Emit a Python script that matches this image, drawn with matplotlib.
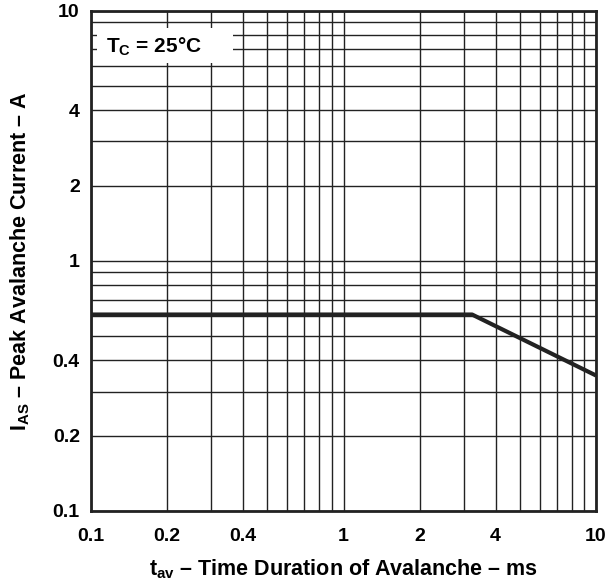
import matplotlib.pyplot as plt
from matplotlib.patches import Rectangle
from matplotlib.ticker import FixedLocator, NullFormatter, LogLocator

plt.rcParams['font.family'] = ['Liberation Sans', 'DejaVu Sans']
plt.rcParams['font.weight'] = 'bold'
plt.rcParams['axes.labelweight'] = 'bold'
plt.rcParams['mathtext.fontset'] = 'custom'
plt.rcParams['mathtext.rm'] = 'Liberation Sans:bold'
plt.rcParams['mathtext.bf'] = 'Liberation Sans:bold'
plt.rcParams['mathtext.it'] = 'Liberation Sans:bold'

# Avalanche current vs. time duration
t_av = [0.1, 3.23, 10]
i_as = [0.61, 0.61, 0.348]

x_ticks = [0.1, 0.2, 0.4, 1, 2, 4, 10]
y_ticks = [0.1, 0.2, 0.4, 1, 2, 4, 10]
tick_labels = ["0.1", "0.2", "0.4", "1", "2", "4", "10"]

fig = plt.figure(figsize=(6.09, 5.88), dpi=100)
ax = fig.add_axes([0.1494, 0.131, 0.8293, 0.8508])

ax.plot(t_av, i_as, color="#222222", linewidth=3, solid_capstyle="butt", zorder=3)

ax.set_xscale("log")
ax.set_yscale("log")
ax.set_xlim(0.1, 10)
ax.set_ylim(0.1, 10)

ax.xaxis.set_major_locator(FixedLocator(x_ticks))
ax.yaxis.set_major_locator(FixedLocator(y_ticks))
for axis in (ax.xaxis, ax.yaxis):
    axis.set_minor_locator(LogLocator(base=10, subs=range(2, 10)))
    axis.set_minor_formatter(NullFormatter())
ax.set_xticklabels(tick_labels)
ax.set_yticklabels(tick_labels)
ax.tick_params(which="both", length=0, labelsize=14)
ax.tick_params(axis="x", pad=12)
ax.tick_params(axis="y", pad=8)

ax.grid(True, which="both", color="#222222", linewidth=1.0)
ax.set_axisbelow(True)
for sp in ax.spines.values():
    sp.set_linewidth(2)
    sp.set_color("#222222")

# condition box
ax.add_patch(Rectangle((0.012, 0.895), 0.27, 0.07, transform=ax.transAxes,
                       facecolor="white", edgecolor="none", zorder=2))
ax.text(0.03, 0.928, r"$\mathbf{T_C}$ = 25°C", transform=ax.transAxes,
        fontsize=15, va="center", ha="left", zorder=4)

ax.set_xlabel(r"$\mathbf{t_{av}}$ – Time Duration of Avalanche – ms", fontsize=15.5, labelpad=9)
ax.set_ylabel(r"$\mathbf{I_{AS}}$ – Peak Avalanche Current – A", fontsize=15.5, labelpad=15)

fig.savefig("out.png", dpi=100)
